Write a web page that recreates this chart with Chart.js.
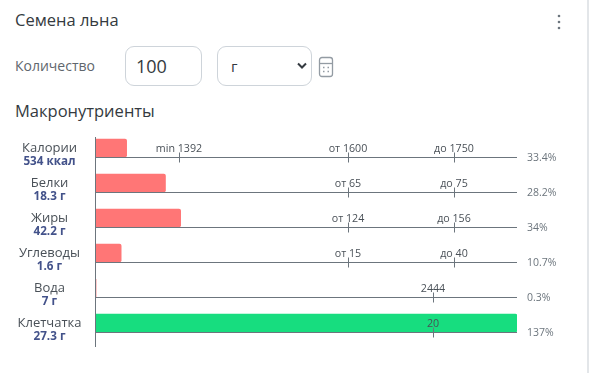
<!DOCTYPE html>
<html lang="ru"><head><meta charset="utf-8">
<script src="https://cdn.jsdelivr.net/npm/chart.js@4"></script>
<style>
html,body{margin:0;padding:0;background:#fff;overflow:hidden}
body{width:589px;height:373px;position:relative;font-family:"Open Sans",sans-serif;color:#343a40}
.a{position:absolute;white-space:nowrap}
.box{border:1px solid #ced4da;border-radius:9px;box-sizing:border-box;background:#fff}
canvas{position:absolute;left:0;top:120px}
</style></head><body>
<div class="a" style="left:15px;top:9px;font-size:16.5px;line-height:22px;font-weight:500">Семена льна</div>
<svg class="a" style="left:556px;top:13px" width="6" height="18"><circle cx="3" cy="3" r="1.3" fill="#6c757d"/><circle cx="3" cy="9" r="1.3" fill="#6c757d"/><circle cx="3" cy="15" r="1.3" fill="#6c757d"/></svg>
<div class="a" style="left:15px;top:56px;font-size:14px;line-height:20px;color:#5f666d">Количество</div>
<div class="a box" style="left:125px;top:46px;width:77px;height:40px;font-size:18px;line-height:38px;padding-left:10px;color:#343a40">100</div>
<div class="a box" style="left:217px;top:46px;width:95px;height:40px;font-size:15px;line-height:38px;padding-left:13px;color:#343a40">г</div>
<svg class="a" style="left:297px;top:62px" width="10" height="8"><path d="M1 1.5 L5 5.5 L9 1.5" fill="none" stroke="#343a40" stroke-width="2"/></svg>
<svg class="a" style="left:318px;top:56px" width="16" height="22" fill="none" stroke="#939ba3" stroke-width="1.3"><rect x="1.5" y="1.5" width="13" height="19" rx="2.5"/><path d="M1.5 7.5H14.5"/><path d="M5 11.5h1.5M9.5 11.5h1.5M5 15.5h1.5M9.5 15.5h1.5"/></svg>
<div class="a" style="left:15px;top:100px;font-size:16.5px;line-height:22px;font-weight:500">Макронутриенты</div>
<div class="a" style="left:587px;top:0;width:2px;height:373px;background:#e3e6e9"></div>
<canvas id="c" width="589" height="235"></canvas>
<script>
const categories = ["Калории","Белки","Жиры","Углеводы","Вода","Клетчатка"];
const amounts = ["534 ккал","18.3 г","42.2 г","1.6 г","7 г","27.3 г"];
const barLengths = [7.5,16.7,20.3,6.2,0.25,100];
const percents = ["33.4%","28.2%","34%","10.7%","0.3%","137%"];
const barColors = ["#ff7676","#ff7676","#ff7676","#ff7676","#ff7676","#17dd7f"];
const markerPositions = [[20,60,85],[60,85],[60,85],[60,85],[80],[80]];
const markerLabels = [["min 1392","от 1600","до 1750"],["от 65","до 75"],["от 124","до 156"],["от 15","до 40"],["2444"],["20"]];

const FONT = '"Open Sans", sans-serif';
const LINE = '#6c757d';
const rowOverlay = {
  id:'rowOverlay',
  afterDatasetsDraw(chart){
    const {ctx, scales:{x,y}} = chart;
    const half = chart.getDatasetMeta(0).data[0].height/2;
    ctx.save();
    ctx.strokeStyle = LINE; ctx.lineWidth = 1;
    const x0 = Math.round(x.getPixelForValue(0))+0.5;
    const xEnd = x.getPixelForValue(100);
    categories.forEach((_,i)=>{
      const c = y.getPixelForValue(i);
      const base = Math.round(c+half)+0.5;
      ctx.beginPath(); ctx.moveTo(x0,base); ctx.lineTo(xEnd,base); ctx.stroke();
      ctx.textAlign='center'; ctx.textBaseline='alphabetic';
      markerPositions[i].forEach((p,j)=>{
        const px = Math.round(x.getPixelForValue(p))+0.5;
        ctx.beginPath(); ctx.moveTo(px,base-5); ctx.lineTo(px,base+5); ctx.stroke();
        ctx.font = '10.7px '+FONT; ctx.fillStyle='#495057';
        ctx.fillText(markerLabels[i][j],px-0.5,base-6);
      });
      ctx.textAlign='left'; ctx.textBaseline='middle';
      ctx.font='10.5px '+FONT; ctx.fillStyle='#6c757d';
      ctx.fillText(percents[i],xEnd+10,base+1);
      ctx.textAlign='center'; ctx.textBaseline='middle';
      ctx.font='bold 11.7px '+FONT; ctx.fillStyle='#43528a';
      ctx.fillText(amounts[i],49.5,c+14);
    });
    const top = y.getPixelForValue(0)-half-2;
    const bot = y.getPixelForValue(categories.length-1)+half+15;
    ctx.beginPath(); ctx.moveTo(x0,top); ctx.lineTo(x0,bot); ctx.stroke();
    ctx.restore();
  }
};
new Chart(document.getElementById('c'),{
  type:'bar',
  data:{labels:categories,datasets:[{data:barLengths,backgroundColor:barColors,barThickness:18,borderRadius:2,borderSkipped:'left'}]},
  plugins:[rowOverlay],
  options:{
    responsive:false,animation:false,indexAxis:'y',
    layout:{padding:{top:10.5,bottom:14.5,left:0,right:72}},
    plugins:{legend:{display:false},tooltip:{enabled:false}},
    scales:{
      x:{display:false,min:0,max:100},
      y:{
        afterFit(s){s.width=95;s.paddingTop=0;s.paddingBottom=0},
        border:{display:false},
        grid:{display:false,drawTicks:false},
        ticks:{crossAlign:'center',padding:13.5,color:'#495057',font:{family:FONT,size:13}}
      }
    }
  }
});
</script>
</body></html>
